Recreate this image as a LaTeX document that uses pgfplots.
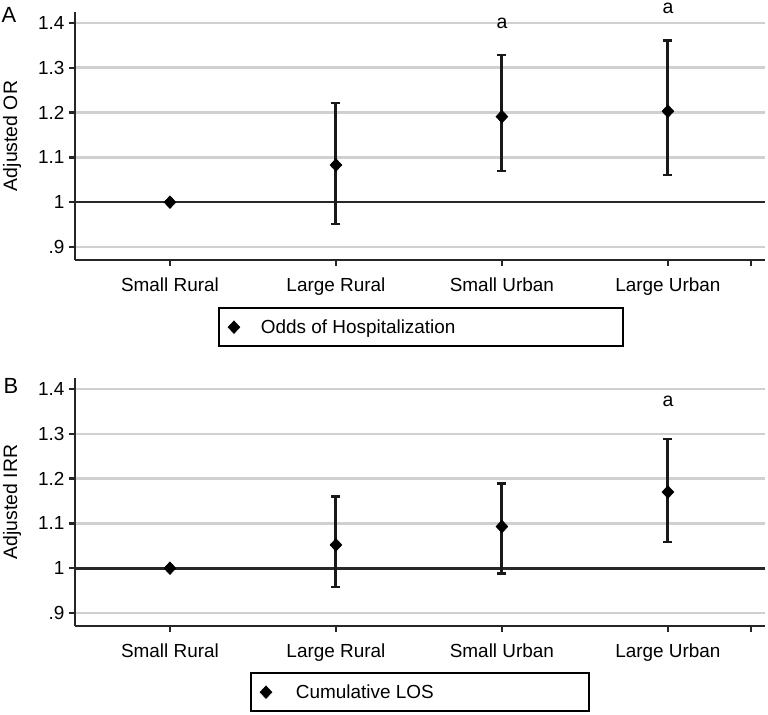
\documentclass[border=0pt]{standalone}
\usepackage{fontspec}
\setmainfont{Liberation Sans}
\usepackage{pgfplots}
\pgfplotsset{compat=1.18}
\usepackage{pgfplotstable}

\definecolor{gridgray}{RGB}{208,208,208}
\definecolor{refline}{RGB}{40,40,40}

% Panel A: odds of hospitalization (estimate, +CI, -CI)
\pgfplotstableread{
x y ep em
1 1.000 0.000 0.000
2 1.083 0.139 0.132
3 1.191 0.138 0.122
4 1.203 0.158 0.142
}\dataA
% Panel B: cumulative LOS
\pgfplotstableread{
x y ep em
1 1.000 0.000 0.000
2 1.052 0.108 0.094
3 1.093 0.096 0.105
4 1.170 0.118 0.112
}\dataB

\pgfplotsset{
 panel/.style={
  scale only axis, width=690bp, height=248bp,
  xmin=0.428, xmax=4.585, ymin=0.871, ymax=1.4246,
  axis x line*=bottom, axis y line*=left,
  axis line style={line width=2.6bp, black!85, -},
  xtick={1,2,3,4}, xticklabels={Small Rural, Large Rural, Small Urban, Large Urban},
  extra x ticks={4.5}, extra x tick labels={},
  ytick={0.9,1,1.1,1.2,1.3,1.4}, yticklabels={.9,1,1.1,1.2,1.3,1.4},
  tick align=outside, major tick length=6bp,
  every tick/.style={black!85, line width=2.4bp},
  ymajorgrids, grid style={gridgray, line width=2.6bp},
  tick label style={font=\fontsize{19}{22}\selectfont},
  xticklabel style={yshift=-8bp},
  yticklabel style={xshift=-1bp},
  label style={font=\fontsize{19.5}{23}\selectfont},
  ylabel style={at={(axis description cs:-0.0913,0.5)}, anchor=center},
  clip=false,
  legend style={draw=black, line width=2.2bp, inner xsep=9bp, inner ysep=9.5bp,
    font=\fontsize{19}{22}\selectfont, legend cell align=left},
 },
 pts/.style={only marks, mark=diamond*, mark size=6.3bp,
   mark options={black, fill=black, line width=0.6bp, xscale=1.25},
   error bars/.cd, y dir=both, y explicit,
   error bar style={line width=3bp, black!90},
   error mark options={rotate=90, draw=black!90, line width=2.4bp, mark size=4.5bp}},
}

\begin{document}
\begin{tikzpicture}[x=1bp,y=1bp]
\path (0,0) rectangle (768,715);
% ---------- Panel A ----------
\begin{axis}[panel, at={(75bp,455bp)}, anchor=south west,
  ylabel={Adjusted OR},
  legend style={at={(axis description cs:0.2072,-0.1895)}, anchor=north west,
    /tikz/every odd column/.append style={column sep=19bp}}]
\draw[refline, line width=2.6bp] (axis cs:0.428,1) -- (axis cs:4.585,1);
\addplot[pts] table[x=x, y=y, y error plus=ep, y error minus=em] {\dataA};
\addlegendentry{\makebox[351bp][l]{Odds of Hospitalization}}
\node[font=\fontsize{19.5}{23}\selectfont, inner sep=0pt] at (axis cs:3,1.400) {a};
\node[font=\fontsize{19.5}{23}\selectfont, inner sep=0pt] at (axis cs:4,1.432) {a};
\end{axis}
\node[font=\fontsize{22}{26}\selectfont] at (9,700) {A};
% ---------- Panel B ----------
\begin{axis}[panel, at={(75bp,89bp)}, anchor=south west,
  ylabel={Adjusted IRR},
  legend style={at={(axis description cs:0.2536,-0.1855)}, anchor=north west,
    /tikz/every odd column/.append style={column sep=22bp}}]
\draw[refline, line width=2.6bp] (axis cs:0.428,1) -- (axis cs:4.585,1);
\addplot[pts] table[x=x, y=y, y error plus=ep, y error minus=em] {\dataB};
\addlegendentry{\makebox[282bp][l]{Cumulative LOS}}
\node[font=\fontsize{19.5}{23}\selectfont, inner sep=0pt] at (axis cs:4,1.372) {a};
\end{axis}
\node[font=\fontsize{22}{26}\selectfont] at (11,329) {B};
\pgfresetboundingbox
\path[use as bounding box] (0,0) rectangle (768,715);
\end{tikzpicture}
\end{document}
